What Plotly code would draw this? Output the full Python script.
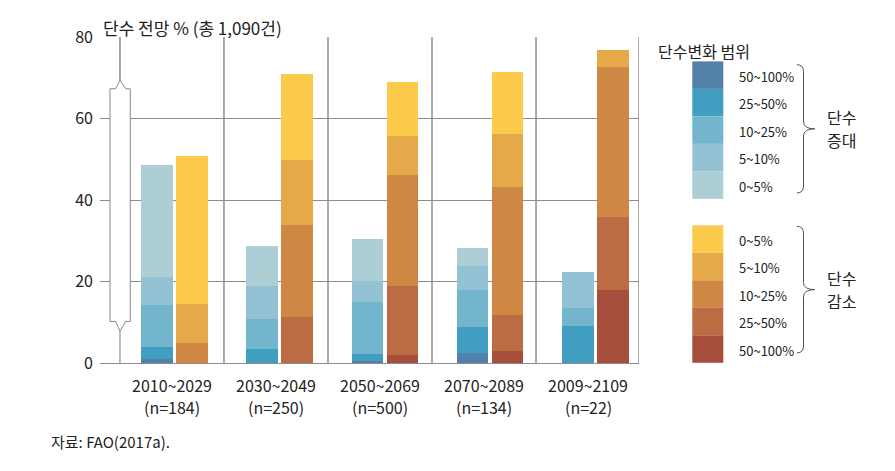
import plotly.graph_objects as go

# 기간별 단수 전망 (%)
periods = ["2010~2029", "2030~2049", "2050~2069", "2070~2089", "2009~2109"]
counts = ["(n=184)", "(n=250)", "(n=500)", "(n=134)", "(n=22)"]

range_labels = ["50~100%", "25~50%", "10~25%", "5~10%", "0~5%"]

# 단수 증대 (아래에서 위로: 50~100, 25~50, 10~25, 5~10, 0~5)
inc_50_100 = [1.1, 0.0, 0.6, 2.4, 0.0]
inc_25_50 = [2.9, 3.5, 1.7, 6.4, 9.2]
inc_10_25 = [10.3, 7.4, 12.7, 9.2, 4.2]
inc_5_10 = [6.9, 8.1, 5.2, 5.7, 9.0]
inc_0_5 = [27.3, 9.8, 10.3, 4.6, 0.0]

# 단수 감소
dec_50_100 = [0.0, 0.0, 1.9, 3.0, 17.8]
dec_25_50 = [0.0, 11.4, 16.9, 8.9, 18.1]
dec_10_25 = [4.8, 22.4, 27.4, 31.2, 36.7]
dec_5_10 = [9.8, 15.9, 9.4, 13.2, 4.3]
dec_0_5 = [36.3, 21.1, 13.4, 15.0, 0.0]

y_ticks = [0, 20, 40, 60, 80]

inc_colors = ["#5280A8", "#409EC1", "#74B5CE", "#92C2D3", "#AECED6"]
dec_colors = ["#A74D3B", "#BC6C43", "#CF8744", "#E6A949", "#FDCB4B"]

FONT = "Noto Sans CJK KR"
# the page body has an 8px margin, so work in page pixels and shift by it
OFF = 8
W, H = 895 - 2 * OFF, 471 - 2 * OFF
PL, PR, PT, PB = 100, 639, 37.3, 363.4  # plot box in page pixels
L, R, T, B = PL - OFF, W - (PR - OFF), PT - OFF, H - (PB - OFF)
X0, X1 = -0.692, 4.49


def px2x(px):
    return (px - PL) / (PR - PL)


def py2y(py):
    return (PB - py) / (PB - PT)


fig = go.Figure()

idx = list(range(len(periods)))
blue_x = [i - 0.145 + 0.012 * i for i in idx]
orange_x = [i + 0.19 + 0.012 * i for i in idx]

for vals, col in zip([inc_50_100, inc_25_50, inc_10_25, inc_5_10, inc_0_5], inc_colors):
    fig.add_trace(go.Bar(x=blue_x, y=vals, width=0.303, marker=dict(color=col, line=dict(width=0)),
                         showlegend=False, hoverinfo="y"))
for vals, col in zip([dec_50_100, dec_25_50, dec_10_25, dec_5_10, dec_0_5], dec_colors):
    fig.add_trace(go.Bar(x=orange_x, y=vals, width=0.303, marker=dict(color=col, line=dict(width=0)),
                         showlegend=False, hoverinfo="y"))

shapes = []
# vertical separators + right border
for xv in [i + 0.5 for i in idx[:-1]] + [X1]:
    shapes.append(dict(type="line", xref="x", yref="y", x0=xv, x1=xv, y0=0, y1=80,
                       line=dict(color="#555", width=1), layer="below"))

# brace on the left
brace = ("M -0.5,80 L -0.5,69.4 L -0.445,67.3 L -0.401,67.3 L -0.401,10.2 L -0.445,10.2 "
         "L -0.5,7.8 L -0.541,10.2 L -0.596,10.2 L -0.596,67.3 L -0.541,67.3 L -0.5,69.4 Z")
shapes.append(dict(type="path", xref="x", yref="y", path=brace, fillcolor="white",
                   line=dict(color="#888", width=1), layer="above"))
shapes.append(dict(type="line", xref="x", yref="y", x0=-0.5, x1=-0.5, y0=0, y1=7.8,
                   line=dict(color="#777", width=1), layer="above"))

annotations = []


def note(px, py, text, size, anchor="left", xref="paper", height=None):
    x = px if xref == "x" else px2x(px)
    ann = dict(x=x, y=py2y(py), xref=xref, yref="paper", text=text,
               showarrow=False, xanchor=anchor, yanchor="middle",
               font=dict(size=size, color="#222", family=FONT))
    if height:
        ann["height"] = height
    annotations.append(ann)


# category labels under the axis
for i, (p, c) in enumerate(zip(periods, counts)):
    note(i, 385, p, 16, "center", xref="x")
    note(i, 407, c, 16, "center", xref="x")

# legend swatches
sw_l, sw_r, sw_h = 692.3, 723.3, 27.5
inc_top, dec_top = 61.7, 225.7
for k, (lab, col) in enumerate(zip(range_labels, inc_colors)):
    y0 = inc_top + k * sw_h
    shapes.append(dict(type="rect", xref="paper", yref="paper", x0=px2x(sw_l), x1=px2x(sw_r),
                       y0=py2y(y0), y1=py2y(y0 + sw_h), fillcolor=col, line=dict(width=0)))
    note(737, y0 + sw_h / 2 + 1, lab, 13)
for k, (lab, col) in enumerate(zip(range_labels[::-1], dec_colors[::-1])):
    y0 = dec_top + k * sw_h
    shapes.append(dict(type="rect", xref="paper", yref="paper", x0=px2x(sw_l), x1=px2x(sw_r),
                       y0=py2y(y0), y1=py2y(y0 + sw_h), fillcolor=col, line=dict(width=0)))
    note(737, y0 + sw_h / 2 + 1, lab, 13)


def curly(top, bot, xl=797, xm=803.5, xt=815):
    mid = (top + bot) / 2
    pts = [("M", xl, top), ("Q", xm, top), ("", xm, top + 7), ("L", xm, mid - 7),
           ("Q", xm, mid), ("", xt, mid), ("Q", xm, mid), ("", xm, mid + 7),
           ("L", xm, bot - 7), ("Q", xm, bot), ("", xl, bot)]
    return " ".join(f"{c} {px2x(a):.4f},{py2y(b):.4f}".strip() for c, a, b in pts)


for top, bot, w1, w2 in [(65, 193.3, "단수", "증대"), (226.7, 353.3, "단수", "감소")]:
    shapes.append(dict(type="path", xref="paper", yref="paper", path=curly(top, bot),
                       line=dict(color="#555", width=1)))
    mid = (top + bot) / 2
    note(841, mid - 11.5, w1, 16, "center", height=20)
    note(841, mid + 11.5, w2, 16, "center", height=20)

note(656, 51, "단수변화 범위", 16)
note(101, 27.5, "단수 전망 % (총 1,090건)", 17)
note(49, 442, "자료: FAO(2017a).", 15)

fig.update_layout(
    width=W, height=H,
    margin=dict(l=L, r=R, t=T, b=B, autoexpand=False),
    barmode="stack",
    bargap=0,
    plot_bgcolor="white", paper_bgcolor="white",
    font=dict(family=FONT, color="#222"),
    xaxis=dict(range=[X0, X1], showticklabels=False,
               showgrid=False, zeroline=False, showline=False, ticks="", fixedrange=True),
    yaxis=dict(range=[0, 80], tickvals=y_ticks, showgrid=True, gridcolor="#8c8c8c", gridwidth=1,
               zeroline=True, zerolinecolor="#8c8c8c", zerolinewidth=1, ticks="",
               tickfont=dict(size=16, family=FONT, color="#222"), ticklabelstandoff=6,
               fixedrange=True),
    shapes=shapes,
    annotations=annotations,
)

fig.write_html("out.html")
